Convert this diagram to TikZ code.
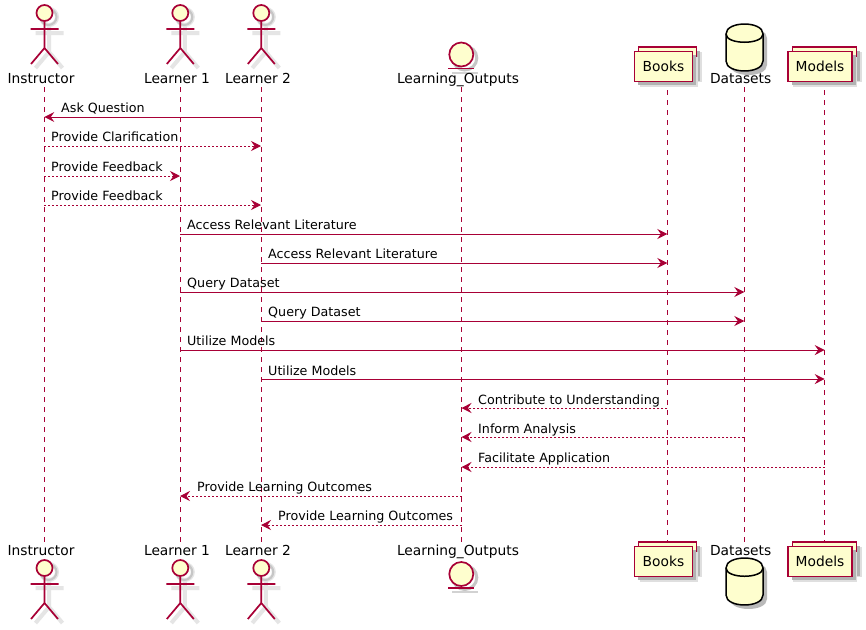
\documentclass[tikz,border=0pt]{standalone}
\usepackage{fontspec}
\setmainfont{DejaVu Sans}
\usetikzlibrary{arrows.meta,shadows}
\definecolor{umlline}{HTML}{A80036}
\definecolor{umlfill}{HTML}{FEFECE}
\begin{document}
\begin{tikzpicture}[
    x=1pt, y=-1pt,
    party/.style={anchor=base, inner sep=0pt, font=\fontsize{13.8}{16}\selectfont},
    msgtext/.style={anchor=base west, inner sep=0pt, font=\fontsize{12.7}{15}\selectfont},
    lifeline/.style={umlline, line width=1pt, dash pattern=on 5pt off 5pt},
    call/.style={-{Stealth[length=10pt,width=10pt,inset=3.5pt]}, umlline, line width=1pt},
    reply/.style={call, dash pattern=on 2pt off 2pt},
    softshadow/.style={drop shadow={shadow xshift=5pt,shadow yshift=-5pt,fill=gray!25,opacity=1},
        drop shadow={shadow xshift=3.5pt,shadow yshift=-3.5pt,fill=gray!60,opacity=1}},
    stackbox/.style={rectangle, draw=umlline, fill=umlfill, line width=1.5pt, softshadow,
        minimum height=30pt, inner sep=0pt, font=\fontsize{13.8}{16}\selectfont},
    actor/.pic={
        \draw[gray!20, line width=4pt] (4.5,12) circle (8);
        \draw[gray!20, line width=4pt] (4.5,21) -- (4.5,47) (-9,28) -- (19,28)
            (4.5,47) -- (-9,63) (4.5,47) -- (18,63);
        \draw[gray!45, line width=2pt] (4,12) circle (8);
        \draw[umlline, fill=umlfill, line width=1.7pt] (0,8) circle (8);
        \draw[umlline, line width=1.7pt] (0,16) -- (0,43) (-14,24) -- (14,24)
            (0,43) -- (-13.5,59) (0,43) -- (13.5,59);
    },
    entity/.pic={
        \draw[gray!45, line width=3pt] (3.5,3.5) circle (12);
        \draw[gray!35, line width=2pt] (-9,18) -- (17,18);
        \draw[umlline, fill=umlfill, line width=1.7pt] (0,0) circle (12);
        \draw[umlline, line width=1.7pt] (-13,14) -- (13,14);
    },
    datastore/.pic={
        \fill[gray!55] (-14.5,14) .. controls (-14.5,0.7) and (22.5,0.7) .. (22.5,14) -- (22.5,41)
            .. controls (22.5,54.3) and (-14.5,54.3) .. (-14.5,41) -- cycle;
        \draw[black, fill=umlfill, line width=1.5pt] (-18.5,10) .. controls (-18.5,-3.3) and (18.5,-3.3) .. (18.5,10)
            -- (18.5,37) .. controls (18.5,50.3) and (-18.5,50.3) .. (-18.5,37) -- cycle;
        \draw[black, line width=1.5pt] (-18.5,10) .. controls (-18.5,21) and (18.5,21) .. (18.5,10);
    }
]
\useasboundingbox[fill=white] (0,0) rectangle (866,629);

% Lifeline ends
\coordinate (instructorT) at (44.3,87);
\coordinate (instructorB) at (44.3,542);
\coordinate (learneroneT) at (180,87);
\coordinate (learneroneB) at (180,542);
\coordinate (learnertwoT) at (261,87);
\coordinate (learnertwoB) at (261,542);
\coordinate (outputsT) at (461.5,87);
\coordinate (outputsB) at (461.5,542);
\coordinate (booksT) at (667.3,80);
\coordinate (booksB) at (667.3,548);
\coordinate (datasetsT) at (744.3,87);
\coordinate (datasetsB) at (744.3,542);
\coordinate (modelsT) at (824.7,80);
\coordinate (modelsB) at (824.7,548);

\draw[lifeline] (instructorT) -- (instructorB);
\draw[lifeline] (learneroneT) -- (learneroneB);
\draw[lifeline] (learnertwoT) -- (learnertwoB);
\draw[lifeline] (outputsT) -- (outputsB);
\draw[lifeline] (booksT) -- (booksB);
\draw[lifeline] (datasetsT) -- (datasetsB);
\draw[lifeline] (modelsT) -- (modelsB);

% Participants, top
\pic at (44.5,5) {actor};
\pic at (180.3,5) {actor};
\pic at (261.3,5) {actor};
\pic at (461.3,54.5) {entity};
\node[stackbox, minimum width=58pt] (booksback) at (667.7,62) {};
\node[stackbox, minimum width=58pt] (books) at (663.5,66.5) {Books};
\pic at (744.5,24) {datastore};
\node[stackbox, minimum width=64pt] (modelsback) at (824.5,62) {};
\node[stackbox, minimum width=64pt] (models) at (820,66.5) {Models};

\node[party] (instructor) at (41,83) {Instructor};
\node[party] (learnerone) at (177,83) {Learner 1};
\node[party] (learnertwo) at (258,83) {Learner 2};
\node[party] (outputs) at (458,83) {Learning\_Outputs};
\node[party] (datasets) at (740.7,83) {Datasets};

% Participants, bottom
\node[party] (instructorfoot) at (41,555) {Instructor};
\node[party] (learneronefoot) at (177,555) {Learner 1};
\node[party] (learnertwofoot) at (258,555) {Learner 2};
\node[party] (outputsfoot) at (458,555) {Learning\_Outputs};
\node[party] (datasetsfoot) at (740.7,555) {Datasets};

\pic at (44.5,560) {actor};
\pic at (180.3,560) {actor};
\pic at (261.3,560) {actor};
\pic at (461.3,574) {entity};
\node[stackbox, minimum width=58pt] (booksfootback) at (667.7,557) {};
\node[stackbox, minimum width=58pt] (booksfoot) at (663.5,561.5) {Books};
\pic at (744.5,558) {datastore};
\node[stackbox, minimum width=64pt] (modelsfootback) at (824.5,557) {};
\node[stackbox, minimum width=64pt] (modelsfoot) at (820,561.5) {Models};

% Message rows
\coordinate (row1) at (0,117);
\coordinate (row2) at (0,146);
\coordinate (row3) at (0,176);
\coordinate (row4) at (0,205);
\coordinate (row5) at (0,234);
\coordinate (row6) at (0,263);
\coordinate (row7) at (0,292);
\coordinate (row8) at (0,321);
\coordinate (row9) at (0,350);
\coordinate (row10) at (0,379);
\coordinate (row11) at (0,408);
\coordinate (row12) at (0,437);
\coordinate (row13) at (0,467);
\coordinate (row14) at (0,496);
\coordinate (row15) at (0,525);

% Messages
\draw[call] (learnertwoT |- row1) -- (instructorT |- row1);
\draw[reply] (instructorT |- row2) -- (learnertwoT |- row2);
\draw[reply] (instructorT |- row3) -- (learneroneT |- row3);
\draw[reply] (instructorT |- row4) -- (learnertwoT |- row4);
\draw[call] (learneroneT |- row5) -- (booksT |- row5);
\draw[call] (learnertwoT |- row6) -- (booksT |- row6);
\draw[call] (learneroneT |- row7) -- (datasetsT |- row7);
\draw[call] (learnertwoT |- row8) -- (datasetsT |- row8);
\draw[call] (learneroneT |- row9) -- (modelsT |- row9);
\draw[call] (learnertwoT |- row10) -- (modelsT |- row10);
\draw[reply] (booksT |- row11) -- (outputsT |- row11);
\draw[reply] (datasetsT |- row12) -- (outputsT |- row12);
\draw[reply] (modelsT |- row13) -- (outputsT |- row13);
\draw[reply] (outputsT |- row14) -- (learneroneT |- row14);
\draw[reply] (outputsT |- row15) -- (learnertwoT |- row15);

% Message labels
\node[msgtext] (ask) at (61,112) {Ask Question};
\node[msgtext] (clarify) at (51,141) {Provide Clarification};
\node[msgtext] (feedbackone) at (51,171) {Provide Feedback};
\node[msgtext] (feedbacktwo) at (51,200) {Provide Feedback};
\node[msgtext] (litone) at (187,229) {Access Relevant Literature};
\node[msgtext] (littwo) at (268,258) {Access Relevant Literature};
\node[msgtext] (queryone) at (187,287) {Query Dataset};
\node[msgtext] (querytwo) at (268,316) {Query Dataset};
\node[msgtext] (utilone) at (187,345) {Utilize Models};
\node[msgtext] (utiltwo) at (268,375) {Utilize Models};
\node[msgtext] (contribute) at (478,404) {Contribute to Understanding};
\node[msgtext] (inform) at (478,433) {Inform Analysis};
\node[msgtext] (facilitate) at (478,462) {Facilitate Application};
\node[msgtext] (outcomeone) at (197,491) {Provide Learning Outcomes};
\node[msgtext] (outcometwo) at (278,520) {Provide Learning Outcomes};

\end{tikzpicture}
\end{document}
